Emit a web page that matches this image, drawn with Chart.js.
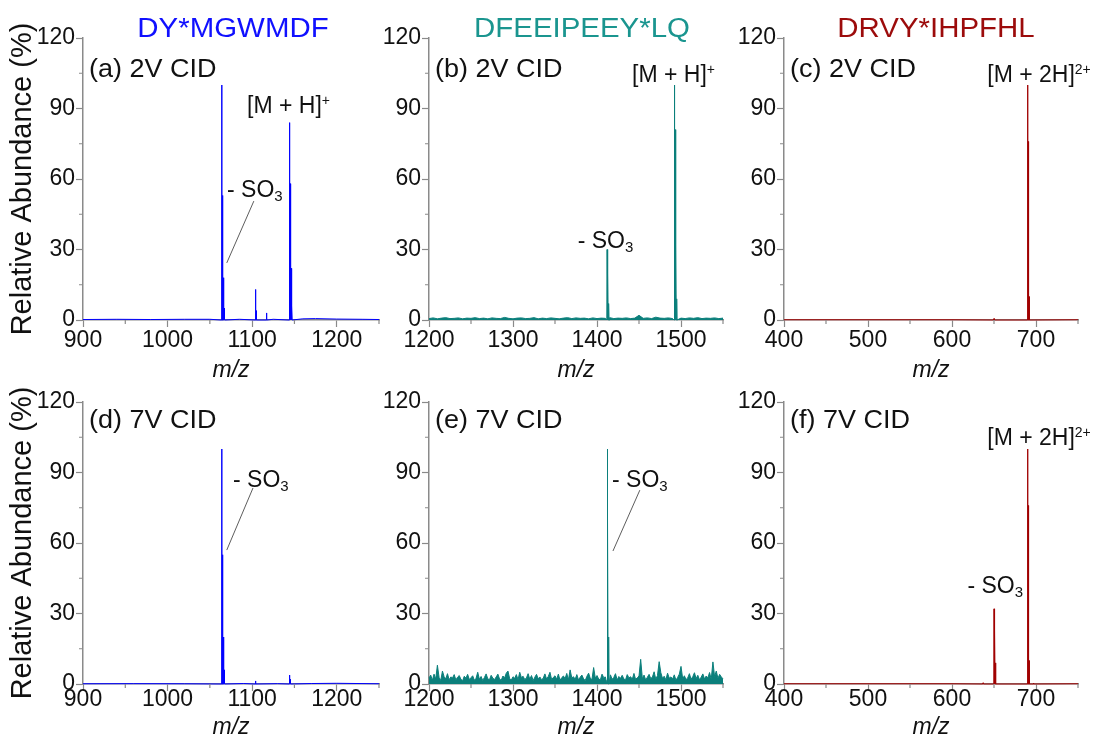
<!DOCTYPE html>
<html>
<head>
<meta charset="utf-8">
<script src="https://cdn.jsdelivr.net/npm/chart.js@4.4.1/dist/chart.umd.min.js"></script>
<style>
html,body{margin:0;padding:0;background:#fff;}
#wrap{position:relative;width:1094px;height:740px;overflow:hidden;background:#fff;}
#wrap canvas{position:absolute;left:0;top:0;}
</style>
</head>
<body>
<div id="wrap">
<canvas id="cA" width="1094" height="740"></canvas>
<canvas id="cB" width="1094" height="740"></canvas>
<canvas id="cC" width="1094" height="740"></canvas>
<canvas id="cD" width="1094" height="740"></canvas>
<canvas id="cE" width="1094" height="740"></canvas>
<canvas id="cF" width="1094" height="740"></canvas>
</div>
<script>
// ---------------- data ----------------
const peptides = ['DY*MGWMDF', 'DFEEIPEEY*LQ', 'DRVY*IHPFHL'];
const panelLabels = ['(a) 2V CID', '(b) 2V CID', '(c) 2V CID', '(d) 7V CID', '(e) 7V CID', '(f) 7V CID'];
const yTitleText = 'Relative Abundance (%)';
const xTitleText = 'm/z';

const yTicks = [0, 30, 60, 90, 120];
const yMinor = [15, 45, 75, 105];
const xTicksA = [900, 1000, 1100, 1200];
const xMinorA = [950, 1050, 1150, 1250];
const xTicksB = [1200, 1300, 1400, 1500];
const xMinorB = [1250, 1350, 1450, 1550];
const xTicksC = [400, 500, 600, 700];
const xMinorC = [450, 550, 650, 750];

// (a) DY*MGWMDF 2V
const peakMzA  = [1064, 1065, 1066, 1067, 1104, 1105, 1117, 1144, 1145, 1146, 1147];
const peakIntA = [100, 53, 18, 5, 13, 4, 3, 84, 58, 22, 6];
const baseMzA  = [900, 940, 980, 1020, 1050, 1085, 1125, 1160, 1175, 1200, 1230, 1250];
const baseIntA = [0.2, 0.3, 0.2, 0.3, 0.3, 0.3, 0.3, 0.5, 0.6, 0.4, 0.3, 0.2];

// (b) DFEEIPEEY*LQ 2V
const peakMzB  = [1412, 1413, 1414, 1492, 1493, 1494, 1495];
const peakIntB = [30, 20, 7, 100, 81, 32, 9];
const noiseStartB = 1200, noiseStepB = 5;
const noiseB = [0.6,0.9,0.5,0.8,1.0,0.6,0.7,0.9,0.5,0.8, 0.7,1.0,0.6,0.8,0.5,0.9,0.7,0.6,1.1,0.7,
                0.5,0.8,0.9,0.6,0.7,1.0,0.5,0.8,0.6,0.9, 0.7,0.5,0.8,1.0,0.6,0.9,0.7,0.8,0.5,0.9,
                0.6,0.8,0.7,1.0,0.6,0.8,0.7,0.9,0.6,0.8, 2.0,0.7,0.9,0.6,1.2,0.8,0.7,0.9,0.6,1.0,
                0.8,0.6,0.9,0.7,1.0,0.6,0.8,0.7,0.9,0.6, 0.8];

// (c) DRVY*IHPFHL 2V
const peakMzC  = [650, 690, 691, 692];
const peakIntC = [0.6, 100, 76, 10];
const baseMzC  = [400, 500, 600, 750];
const baseIntC = [0.1, 0.1, 0.1, 0.1];

// (d) DY*MGWMDF 7V
const peakMzD  = [1064, 1065, 1066, 1067, 1104, 1144, 1145];
const peakIntD = [100, 55, 20, 6, 1.3, 3.8, 2];
const baseMzD  = [900, 960, 1020, 1090, 1130, 1170, 1200, 1250];
const baseIntD = [0.1, 0.15, 0.1, 0.2, 0.15, 0.2, 0.3, 0.1];

// (e) DFEEIPEEY*LQ 7V
const peakMzE  = [1412, 1413, 1414];
const peakIntE = [100, 71, 20];
const noiseStartE = 1200, noiseStepE = 2;
const noiseE = [
 2.5,3.8,1.6,4.2,2.1,8.0,2.8,1.5,5.5,3.1,2.2,4.4,1.8,3.0,2.6,4.0,1.7,2.9,3.6,2.0,
 1.4,3.3,2.5,4.1,1.9,2.7,3.5,1.6,2.4,5.0,2.0,3.2,1.5,2.8,4.3,2.2,1.8,3.7,2.5,1.9,
 3.0,4.2,2.1,1.6,3.4,2.6,4.6,5.5,2.3,1.7,3.1,2.4,4.0,1.8,5.0,2.7,3.3,1.9,2.6,4.4,
 2.0,3.6,1.5,2.9,4.1,2.2,3.0,1.8,2.5,4.3,2.1,3.2,5.0,1.9,2.8,3.5,2.0,4.2,1.6,2.7,
 3.4,2.3,4.5,1.8,6.0,2.6,3.1,2.0,4.0,1.7,2.9,3.8,2.2,1.5,3.3,4.6,2.4,1.9,7.0,2.5,
 3.6,2.1,1.8,4.2,2.7,3.0,1.6,2.3,3.9,2.0,2.8,4.4,1.7,3.2,2.4,3.7,2.1,1.8,4.0,2.6,
 3.1,2.0,4.5,1.9,2.7,3.4,10.5,2.2,3.8,1.7,2.9,4.1,2.3,3.0,5.2,2.0,3.6,9.5,4.8,2.4,
 3.3,1.8,4.6,2.5,3.0,2.1,3.9,1.6,2.8,4.2,7.5,2.2,3.5,1.9,2.6,4.4,2.0,3.1,4.8,2.3,
 3.7,1.8,2.9,4.3,2.1,3.4,2.6,4.9,2.0,9.4,3.2,5.5,2.4,4.1,3.0,2.2];

// (f) DRVY*IHPFHL 7V
const peakMzF  = [637, 650, 651, 652, 690, 691, 692, 697];
const peakIntF = [0.5, 32, 23, 9, 100, 76, 10, 0.4];
const baseMzF  = [400, 500, 600, 750];
const baseIntF = [0.1, 0.1, 0.1, 0.1];

// ---------------- helpers ----------------
const FONT = '"Liberation Sans", Arial, Helvetica, sans-serif';
const AXIS = '#8a8a8a';
const BLUE = '#0000ff', TEAL = '#0b7f7b', RED = '#a00000';
const BLUE_T = '#1010ff', TEAL_T = '#1a958f', RED_T = '#9c0b0b';

function spectrum(peakMz, peakInt, baseMz, baseInt) {
  const pts = [];
  baseMz.forEach((m, i) => pts.push({x: m, y: baseInt[i]}));
  peakMz.forEach((m, i) => {
    pts.push({x: m - 0.3, y: 0}, {x: m, y: peakInt[i]}, {x: m + 0.3, y: 0});
  });
  pts.sort((a, b) => a.x - b.x);
  return pts;
}
function gridMz(start, step, vals) { return vals.map((v, i) => start + step * i); }

const rows = [
  {xH: 62.5, xPad: 0.2, labelDy: 39},
  {xH: 55.5, xPad: -4.8, labelDy: 26}
];

const SUB = (t) => [t, 15, 4];
const SUP = (t) => [t, 14, -8];

const panels = [
  {id: 'cA', area: [83, 38, 379, 320], row: 0, xr: [900, 1250], xt: xTicksA, xm: xMinorA, color: BLUE, fill: false, yTitle: true,
   data: spectrum(peakMzA, peakIntA, baseMzA, baseIntA), title: peptides[0], titleColor: BLUE_T, titleDx: 2, label: panelLabels[0],
   ann: [{x: 1094, y: 88, parts: [['[M + H]', 23, 0], SUP('+')]}, {x: 1070.3, y: 52.3, parts: [['- SO', 23, 0], SUB('3')]}],
   leaders: [[1102, 50.6, 1070, 24.3]]},
  {id: 'cB', area: [429, 38, 723, 320], row: 0, xr: [1200, 1550], xt: xTicksB, xm: xMinorB, color: TEAL, fill: true, yTitle: false,
   data: spectrum(peakMzB, peakIntB, gridMz(noiseStartB, noiseStepB, noiseB), noiseB), title: peptides[1], titleColor: TEAL_T, titleDx: 6, label: panelLabels[1],
   ann: [{x: 1441.7, y: 101.3, parts: [['[M + H]', 23, 0], SUP('+')]}, {x: 1377, y: 30.6, parts: [['- SO', 23, 0], SUB('3')]}],
   leaders: []},
  {id: 'cC', area: [784, 38, 1078, 320], row: 0, xr: [400, 750], xt: xTicksC, xm: xMinorC, color: RED, fill: false, yTitle: false,
   data: spectrum(peakMzC, peakIntC, baseMzC, baseIntC), title: peptides[2], titleColor: RED_T, titleDx: 5, label: panelLabels[2],
   ann: [{x: 642, y: 101.3, parts: [['[M + 2H]', 23, 0], SUP('2+')]}],
   leaders: []},
  {id: 'cD', area: [83, 402, 379, 684], row: 1, xr: [900, 1250], xt: xTicksA, xm: xMinorA, color: BLUE, fill: false, yTitle: true,
   data: spectrum(peakMzD, peakIntD, baseMzD, baseIntD), title: null, label: panelLabels[3],
   ann: [{x: 1077.4, y: 83.8, parts: [['- SO', 23, 0], SUB('3')]}],
   leaders: [[1101, 83.4, 1070, 57]]},
  {id: 'cE', area: [429, 402, 723, 684], row: 1, xr: [1200, 1550], xt: xTicksB, xm: xMinorB, color: TEAL, fill: true, yTitle: false,
   data: spectrum(peakMzE, peakIntE, gridMz(noiseStartE, noiseStepE, noiseE), noiseE), title: null, label: panelLabels[4],
   ann: [{x: 1417.9, y: 83.8, parts: [['- SO', 23, 0], SUB('3')]}],
   leaders: [[1451, 82.5, 1419, 56.6]]},
  {id: 'cF', area: [784, 402, 1078, 684], row: 1, xr: [400, 750], xt: xTicksC, xm: xMinorC, color: RED, fill: false, yTitle: false,
   data: spectrum(peakMzF, peakIntF, baseMzF, baseIntF), title: null, label: panelLabels[5],
   ann: [{x: 642, y: 101.7, parts: [['[M + 2H]', 23, 0], SUP('2+')]}, {x: 618.4, y: 38.7, parts: [['- SO', 23, 0], SUB('3')]}],
   leaders: []}
];

function drawStretched(ctx, text, x, y, size, color, sx, align) {
  ctx.save();
  ctx.font = size + 'px ' + FONT;
  ctx.fillStyle = color;
  ctx.textBaseline = 'alphabetic';
  const w = ctx.measureText(text).width * sx;
  let left = align === 'center' ? x - w / 2 : x;
  ctx.translate(left, y);
  ctx.scale(sx, 1);
  ctx.textAlign = 'left';
  ctx.fillText(text, 0, 0);
  ctx.restore();
}

function overlay(p) {
  const row = rows[p.row];
  return {
    id: 'overlay_' + p.id,
    afterDraw(chart) {
      const ctx = chart.ctx, ca = chart.chartArea, xs = chart.scales.x, ys = chart.scales.y;
      ctx.save();
      // minor ticks
      ctx.strokeStyle = AXIS; ctx.lineWidth = 1.2;
      ctx.beginPath();
      p.xm.forEach(v => { const px = xs.getPixelForValue(v); ctx.moveTo(px, ca.bottom); ctx.lineTo(px, ca.bottom + 4); });
      yMinor.forEach(v => { const py = ys.getPixelForValue(v); ctx.moveTo(ca.left - 4, py); ctx.lineTo(ca.left, py); });
      ctx.stroke();
      // leader lines
      ctx.strokeStyle = '#333'; ctx.lineWidth = 0.8;
      p.leaders.forEach(l => {
        ctx.beginPath();
        ctx.moveTo(xs.getPixelForValue(l[0]), ys.getPixelForValue(l[1]));
        ctx.lineTo(xs.getPixelForValue(l[2]), ys.getPixelForValue(l[3]));
        ctx.stroke();
      });
      // peptide title
      if (p.title) drawStretched(ctx, p.title, (ca.left + ca.right) / 2 + p.titleDx, ca.top - 1, 27, p.titleColor, 1.09, 'center');
      // panel label
      drawStretched(ctx, p.label, ca.left + 6, ca.top + row.labelDy, 25, '#111', 1.08, 'left');
      // annotations
      ctx.fillStyle = '#111'; ctx.textAlign = 'left'; ctx.textBaseline = 'alphabetic';
      p.ann.forEach(a => {
        let x = xs.getPixelForValue(a.x);
        const y = ys.getPixelForValue(a.y);
        a.parts.forEach(([t, size, dy]) => {
          ctx.font = size + 'px ' + FONT;
          ctx.fillText(t, x, y + dy);
          x += ctx.measureText(t).width;
        });
      });
      ctx.restore();
    }
  };
}

panels.forEach(p => {
  const row = rows[p.row];
  const [L, T, R, B] = p.area;
  const yW = p.yTitle ? L : 60;
  new Chart(document.getElementById(p.id), {
    type: 'line',
    data: {
      datasets: [{
        data: p.data,
        borderColor: p.color,
        backgroundColor: p.color,
        borderWidth: 1,
        pointRadius: 0,
        tension: 0,
        fill: p.fill ? 'origin' : false,
        clip: 4
      }]
    },
    options: {
      responsive: false,
      animation: false,
      events: [],
      layout: {padding: {left: L - yW, top: T, right: 1094 - R, bottom: 740 - B - row.xH}},
      plugins: {legend: {display: false}, tooltip: {enabled: false}, title: {display: false}},
      scales: {
        x: {
          type: 'linear', min: p.xr[0], max: p.xr[1],
          afterBuildTicks: s => { s.ticks = p.xt.map(v => ({value: v})); },
          afterFit: s => { s.height = row.xH; },
          border: {display: true, color: AXIS, width: 1.5},
          grid: {display: true, drawOnChartArea: false, drawTicks: true, tickLength: 7, tickColor: AXIS, tickWidth: 1.2},
          ticks: {color: '#111', font: {family: FONT, size: 23}, padding: row.xPad, maxRotation: 0, autoSkip: false,
                  callback: v => String(v)},
          title: {display: true, text: xTitleText, color: '#111', font: {family: FONT, size: 23, style: 'italic', lineHeight: 1}, padding: 0}
        },
        y: {
          type: 'linear', min: 0, max: 120,
          afterBuildTicks: s => { s.ticks = yTicks.map(v => ({value: v})); },
          afterFit: s => { s.width = yW; },
          border: {display: true, color: AXIS, width: 1.5},
          grid: {display: true, drawOnChartArea: false, drawTicks: true, tickLength: 7, tickColor: AXIS, tickWidth: 1.2},
          ticks: {color: '#111', font: {family: FONT, size: 23}, padding: 1, callback: v => String(v)},
          title: {display: p.yTitle, text: yTitleText, color: '#111', font: {family: FONT, size: 29}, padding: {top: 5.6, bottom: 0}}
        }
      }
    },
    plugins: [overlay(p)]
  });
});
</script>
</body>
</html>
